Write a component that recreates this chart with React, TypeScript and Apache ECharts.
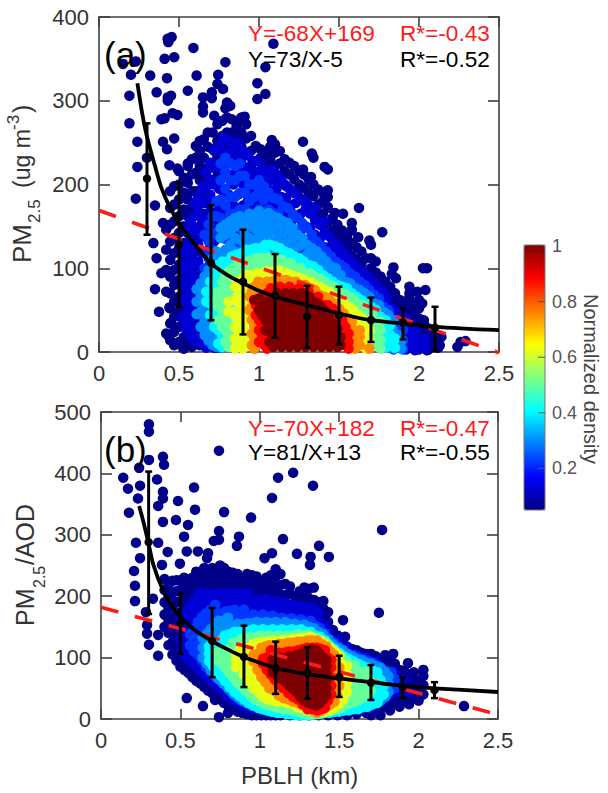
import React, { useEffect, useRef } from "react";
import * as echarts from "echarts";

const FONT = '"Liberation Sans", Arial, sans-serif';
const X_TICK_LABEL_COLOR = "#333333";

// Panel (a): isolated points, [x, y]
const sparseA = [[.454,376],[.429,374],[.433,370],[.59,363],[.47,352],[.41,350],[.23,347],[.15,344],[.2,331],[.32,330],[.425,327],[.61,330],[.79,346],[1.09,368],[1.04,340],[.99,321],[1.04,308],[.99,302],[.745,331],[.74,320],[.775,314],[.705,310],[.705,303],[.65,304],[.555,312],[.36,310],[.45,306],[.43,304],[.43,300],[.19,306],[.65,293],[.65,286],[.8,298],[.82,294],[.79,291],[.46,285],[.49,283],[.41,279],[.39,278],[.19,273],[.72,282],[.24,251],[.4,251],[.47,255],[.425,242],[.3,232],[.24,221],[.555,225],[.44,223],[.49,219],[1.08,253],[.91,281],[.86,275],[1.275,251],[1.33,237],[1.34,232],[1.41,221],[1.43,218],[1.275,218],[1.325,209],[1.43,193],[1.41,191],[1.43,173],[1.625,172],[1.475,166],[1.525,165],[1.77,143],[1.58,154],[1.69,133],[1.525,143],[1.58,146],[1.62,137],[1.84,101],[2.025,100],[2.05,100],[1.83,93],[1.856,88],[1.94,78],[2.04,74],[1.99,72],[1.94,70],[2.02,58],[2.03,38],[2.14,18],[2.13,8],[2.29,13],[2.24,6],[2.26,12],[1.975,2],[2.05,2],[.23,183],[.35,175],[.4,154],[.34,130],[.36,112],[.39,94],[.35,75],[.375,48],[.45,35],[.43,20],[.44,53]];

// Panel (a): columns of points by density, [x, y, y, ...]
const a06 = [[.42,22,72,98,122,146],[.47,8,24,42,60,80,98,118,136,156,176,198],[.53,4,18,36,54,72,92,110,130,150,170,190,208],[.58,6,22,40,58,76,96,114,134,152,172,192,212,230],[.63,8,30,60,90,120,150,180,205,222,240,252],[.68,12,40,150,180,200,220,245,262],[.74,5,210,232,252,272],[.80,225,245,262,280],[.86,215,235,255,270],[.92,215,235,255,272],[.98,210,228,246],[1.04,205,222,238],[1.10,205,222,238,248],[1.16,200,216,230],[1.22,190,206,222],[1.28,180,196,212],[1.34,170,186,200],[1.40,150,165,180,190],[1.46,130,145,160],[1.52,115,130,145],[1.58,100,115,130,145],[1.64,90,105,120],[1.70,75,88,100,112,128],[1.76,65,78,90],[1.82,52,65,78],[1.88,40,52,62],[1.94,5,18,30,42,55,65],[2.0,3,15,28,40,52,62],[2.06,3,15,28],[2.12,5,18]];
const a06x = [[.445,14,34,52,70,90,110,132,152,172,192],[.50,12,30,48,66,86,104,124,142,162,182,200,216],[.555,12,30,46,66,86,104,124,142,162,182,202,222],[.605,14,34,50,74,104,134,165,192,214,232,246],[.655,26,50,165,190,212,232,254],[.71,18,220,242,262],[.77,218,240,258,276],[.83,205,225,245,262,278],[.89,225,245,262,280],[.95,222,240,258],[1.01,215,232,242],[1.07,212,230,245],[1.13,210,225,240],[1.19,195,212,226],[1.25,185,200,216],[1.31,175,190,206],[1.37,160,176,194],[1.43,140,155,172,185],[1.49,122,138,152],[1.55,108,122,138],[1.61,95,110,125],[1.67,82,95,112],[1.73,70,82,95,108],[1.79,58,70,84],[1.85,46,58,70],[1.91,10,24,36,48,60],[1.97,8,22,34,46,58],[2.03,8,22,34],[2.09,8,22]];
const a13 = [[.52,40,60,80,100,120],[.57,20,35,55,75,95,115,135,155],[.62,12,28,48,68,88,108,128,148,168,186],[.67,5,18,38,58,78,98,118,138,158,178,198,215],[.72,5,18,38,60,84,108,132,156,180,200,222,240],[.78,140,165,190,215,238,255],[.84,150,175,200,225,245],[.90,150,175,200,220,240],[.96,170,190,210,228],[1.02,170,190,208,220],[1.08,165,185,205,218],[1.14,165,185,205],[1.20,155,175,192],[1.26,145,165,182],[1.32,130,148,165],[1.38,118,135,152],[1.44,105,120,138],[1.50,95,110,125],[1.56,85,98,112],[1.62,75,88,100],[1.68,65,78,90],[1.74,55,66,78],[1.80,45,56,66],[1.86,5,20,35,48],[1.92,3,14,28,40],[1.98,3,14,26],[2.04,5,16]];
const a13x = [[.545,28,46,66,86,106,126,146],[.595,14,28,45,65,85,105,125,145,162,178],[.645,10,22,38,58,78,98,118,138,158,178,196],[.695,8,28,48,68,88,108,128,148,168,188,206,226],[.75,146,170,195,220,245],[.81,140,162,188,212,236,252],[.87,140,162,188,212,232,250],[.93,160,180,200,220,235],[.99,160,180,200,215,228],[1.05,160,178,196,212],[1.11,155,175,195,212],[1.17,148,165,184,198],[1.23,140,160,178,190],[1.29,130,150,170,180],[1.35,122,140,158,172],[1.41,108,125,142,156],[1.47,98,114,130],[1.53,90,104,118],[1.59,80,92,106],[1.65,70,82,94],[1.71,60,72,84],[1.77,50,60,72],[1.83,10,26,40,52],[1.89,8,20,32,44],[1.95,8,20,32]];
const a22 = [[.66,40,60,80,100,120,140],[.71,22,42,62,82,102,122,142,162],[.76,10,28,50,72,94,116,138,160,182,205,225],[.82,125,145,165,185,205,225],[.88,130,150,170,190,210,225],[.94,140,160,180,200],[1.0,150,170,190,205],[1.06,150,170,190],[1.12,145,165,182],[1.18,135,155,172],[1.24,128,145,160],[1.30,115,130,148],[1.36,105,118,132],[1.42,95,108,120],[1.48,85,97,108],[1.54,78,90,100],[1.60,70,80,90],[1.66,60,70,80],[1.72,50,60,68],[1.78,5,18,32,44,54],[1.84,3,14,26,38],[1.90,3,14,26]];
const a22x = [[.685,12,32,52,72,92,112,132,152],[.735,14,34,54,76,98,118,140,162,180],[.79,120,135,155,175,195,215,232],[.85,128,145,165,185,205,222],[.91,130,150,170,190,210],[.97,145,165,185,200],[1.03,148,165,182,198],[1.09,148,166,184],[1.15,138,156,174],[1.21,130,148,165],[1.27,120,136,154],[1.33,110,124,140],[1.39,100,112,126],[1.45,90,102,114],[1.51,82,92,104],[1.57,74,84,94],[1.63,64,74,84],[1.69,54,65,74],[1.75,46,56,64],[1.81,8,24,38,50],[1.87,8,20,32]];
const a30 = [[.61,45,60,75],[.66,20,38,55,72,90],[.71,8,22,40,58,76,94,112],[.76,5,18,100,118,136,148],[.82,112,128,144,156],[.88,118,134,150,162],[.94,120,136,152,165],[1.0,124,140,156,168],[1.06,126,142,158,166],[1.12,124,138,152,160],[1.18,118,132,146,154],[1.24,112,126,140],[1.30,104,116,128],[1.36,98,110,120],[1.42,88,98,108],[1.48,80,90,100],[1.54,74,84],[1.60,66,76],[1.66,58,70],[1.72,48,58],[1.78,38,48],[1.84,4,14,26,38],[1.89,4,14]];
const a30x = [[.635,30,48,66,82],[.685,14,30,48,64,80,98],[.735,6,16,32,50,68,86,104,120],[.79,92,106,122,140,152],[.85,106,120,136,150,160],[.91,112,126,142,158],[.97,116,132,148,162],[1.03,118,134,150,164],[1.09,118,132,148,162],[1.15,114,128,142,156],[1.21,108,122,136,148],[1.27,100,112,128,136],[1.33,94,104,116,124],[1.39,86,94,104,114],[1.45,78,88,102],[1.51,72,82,92],[1.57,64,72,82],[1.63,56,66,74],[1.69,46,56,66],[1.75,36,46,56],[1.81,10,22,32,44],[1.87,10,20]];
const a40 = [[.67,60,72],[.72,30,48,66,84,94],[.77,6,20,36,52,68,84,100,108],[.83,6,100,114],[.89,104,118],[.95,108,122],[1.01,110,124],[1.07,112,128],[1.13,110,124],[1.19,106,118],[1.25,100,112],[1.31,95,104],[1.37,88,98],[1.43,80,88],[1.49,72,80],[1.55,66,76],[1.61,58,66],[1.67,48,58],[1.73,40,50],[1.79,5,16,28,38],[1.85,5,16]];
const a40x = [[.695,44,58,72,84],[.745,10,26,42,58,76,92,104],[.80,8,80,96,108],[.86,92,104,116],[.92,98,112,122],[.98,100,116,124],[1.04,104,118,128],[1.10,102,114,126],[1.16,100,112,120],[1.22,94,106,114],[1.28,90,100,108],[1.34,84,92,102],[1.40,78,86,92],[1.46,70,78,84],[1.52,62,70,78],[1.58,54,62,70],[1.64,44,54,62],[1.70,34,44,54],[1.76,8,20,32,42],[1.82,8,20,32]];
const a50 = [[.72,62],[.77,30,48,66,84],[.81,6,18,34,50,66,80,96],[.87,92,106],[.93,96,108],[.99,98,112],[1.05,100,112],[1.11,100,110],[1.17,98,106],[1.23,92,100],[1.29,88,94],[1.35,84,90],[1.41,76,84],[1.47,70,78],[1.53,64,70],[1.59,56,64],[1.65,46,56],[1.71,34,44],[1.76,4,14,26,36]];
const a50x = [[.745,38,54,72],[.79,12,26,42,58,74,90],[.84,10,24,60,76,92,100],[.90,84,96,104],[.96,88,100,110],[1.02,90,104,112],[1.08,94,104,112],[1.14,94,104,110],[1.20,90,100,106],[1.26,84,94,100],[1.32,80,88,94],[1.38,74,82,88],[1.44,66,74,80],[1.50,60,68,74],[1.56,50,58,66],[1.62,40,50,58],[1.68,26,38,48],[1.735,8,20,32]];
const a62 = [[.81,48,60],[.85,4,16,30,44,62,78],[.90,4,16,30,46,60,74,88],[.96,82,92],[1.02,86,94],[1.08,88,96],[1.14,88,96],[1.20,86,92],[1.26,80,88],[1.32,76,84],[1.38,70,78],[1.44,62,72],[1.50,54,62],[1.56,44,54],[1.62,32,44],[1.67,4,14,24,34]];
const a62x = [[.875,8,22,38,52,68,84],[.925,8,22,40,56,72,84,92],[.99,78,88,94],[1.05,80,90,96],[1.11,82,92,98],[1.17,80,90,94],[1.23,76,86,90],[1.29,72,82,86],[1.35,66,76,80],[1.41,60,70,74],[1.47,50,60,66],[1.53,42,52,58],[1.59,30,42,50],[1.645,8,20,32,40],[1.69,14,26]];
const a75 = [[.94,50,66],[.97,4,16,30,44,78],[1.02,66,82],[1.08,76,84],[1.14,78,86],[1.20,76,84],[1.26,72,80],[1.32,68,76],[1.38,60,68],[1.44,52,62],[1.50,42,52],[1.56,30,40],[1.60,4,14,24],[1.69,4]];
const a75x = [[.955,8,22,38,54,72],[.995,10,24,38,52,72,84],[1.05,60,72,84],[1.11,70,80,86],[1.17,70,80,86],[1.23,68,78,84],[1.29,64,74,80],[1.35,58,68,74],[1.41,50,60,66],[1.47,40,50,58],[1.53,30,40,46],[1.58,8,18,28,36],[1.63,8,18,26]];
const a88 = [[.98,44,56],[1.02,20,34,48,62],[1.05,4,14,70],[1.10,72],[1.16,74],[1.22,72],[1.28,70],[1.34,64],[1.40,56],[1.46,44,52],[1.52,30,38],[1.56,4,12,22]];
const a88x = [[1.0,12,26,38,52],[1.035,8,26,42,56,68],[1.075,8,66,76],[1.13,70,78],[1.19,70,78],[1.25,68,76],[1.31,62,72],[1.37,58,66],[1.43,48,56],[1.49,34,44],[1.54,8,18,30]];
const a100 = [[.97,62],[1.0,50,64],[1.04,26,38,50,60],[1.09,6,18,30,42,54,66],[1.14,6,18,30,42,54,66],[1.19,6,18,30,42,54,66],[1.24,6,18,30,42,54,68],[1.29,6,18,30,42,54,66],[1.34,6,18,30,42,54,60],[1.39,6,18,30,42,54],[1.44,6,18,30,42],[1.49,6,18,28]];
const a100x = [[1.02,44,56],[1.065,12,24,36,48,60],[1.115,12,24,36,48,60,70],[1.165,12,24,36,48,60,70],[1.215,12,24,36,48,60,70],[1.265,12,24,36,48,60,70],[1.315,12,24,36,48,60,66],[1.365,12,24,36,48,58],[1.415,12,24,36,48],[1.465,12,24,34],[1.51,8,18]];

// Panel (b): isolated points, [x, y]
const sparseB = [[.302,480],[.302,468],[.743,437],[.39,427],[.397,414],[.302,422],[.24,409],[.14,393],[.353,390],[.17,375],[.246,380],[.586,377],[.39,370],[.233,359],[.39,359],[.485,355],[.36,347],[.176,336],[.592,341],[.775,337],[.472,324],[.39,321],[.945,328],[.548,316],[.743,306],[.523,297],[.869,297],[.71,290],[.743,292],[.856,282],[1.146,293],[1.115,393],[1.21,401],[1.077,360],[.22,287],[.36,287],[.42,272],[.54,273],[.61,273],[.674,270],[.668,262],[.246,262],[1.077,270],[1.03,262],[1.234,269],[1.335,380],[1.77,308],[1.373,282],[1.32,264],[1.435,264],[1.75,173],[1.524,161],[1.316,251],[1.537,134],[1.84,106],[1.933,91],[2.03,80],[2.286,21],[.208,241],[.214,217],[.214,192],[.327,196],[.29,153],[.29,139],[.36,137],[.302,121],[.36,103],[.54,34],[.642,21],[.497,253],[.384,251],[.523,230],[.283,174],[.718,31],[.743,3],[.8,10]];

// Panel (b): columns of points by density, [x, y, y, ...]
const b06 = [[.40,150,170,190,210,228],[.45,105,125,145,165,185,205,225],[.50,85,102,120,138,156,174,192,210,226],[.55,75,92,110,128,146,164,182,200,218],[.60,62,80,98,116,134,152,170,188,206,224,240],[.65,52,70,88,106,124,142,160,178,196,214,232,246],[.70,42,60,200,216,232,246],[.75,32,48,64,190,206,222,238,250],[.80,22,38,54,180,196,212,228,240],[.86,12,28,44,175,190,206,222,236],[.92,8,24,175,190,206,222,236],[.98,6,22,170,186,202,218,232],[1.04,6,20,170,186,202,216,230],[1.10,6,20,168,184,200,216,232,244],[1.16,170,186,202,220],[1.22,170,186,200],[1.28,165,180,198,214],[1.34,160,176,194,214],[1.40,150,165,180,192],[1.46,130,145],[1.52,110,125],[1.58,100,114],[1.64,95,108],[1.70,6,20,90,106],[1.76,6,20,82,98],[1.82,14,30,70,86,100],[1.88,20,36,52,68,80],[1.94,24,40,56,72],[2.0,30,46,62],[2.03,40,55,70]];
const b06x = [[.425,120,140,160,180,200,218],[.475,95,115,132,150,170,190,208,226],[.525,80,96,114,132,150,168,186,204,220],[.575,68,86,104,122,140,158,176,194,212,230],[.625,58,74,92,110,128,146,164,182,200,218,236],[.675,46,64,190,206,224,240],[.725,36,52,195,212,228,244],[.775,26,42,58,185,200,216,232,246],[.83,16,32,48,178,194,210,226,238],[.89,10,26,178,194,210,226],[.95,6,20,172,188,204,220,234],[1.01,6,20,172,188,204,220],[1.07,6,20,170,186,202,218,234],[1.13,6,170,186,202,218,236],[1.19,6,170,186,204,216],[1.25,6,168,182,196,208],[1.31,6,162,178,196,212],[1.37,6,155,172,190],[1.43,6,140,158,174],[1.49,6,120,136],[1.55,6,106,118],[1.61,8,98,112],[1.67,10,92,106],[1.73,14,86,102],[1.79,20,36,76,92,104],[1.85,26,42,58,74,90],[1.91,30,46,62,78],[1.97,34,50,64,76]];
const b13 = [[.50,110,128,146,164],[.56,95,112,130,148,166,184],[.62,80,98,116,134,152,170,188,206],[.68,65,82,100,118,136,154,172,190,205],[.74,52,70,150,168,186,205],[.80,38,56,155,172,188,205],[.86,28,44,160,175,190,205],[.92,18,34,160,176,192,205],[.98,16,165,180,195],[1.04,14,165,180,195],[1.10,14,162,178,192],[1.16,12,160,176,190],[1.22,12,158,174,185],[1.28,10,155,170,182],[1.34,10,150,165,180],[1.40,10,140,155],[1.46,10,125],[1.52,12,110],[1.58,14,98],[1.64,16,92],[1.70,18,88],[1.76,28,80],[1.82,40,58,72],[1.88,44,60],[1.94,45]];
const b13x = [[.53,102,120,138,156,174],[.59,88,104,122,140,158,176,194],[.65,72,90,108,126,144,162,180,198],[.71,58,76,94,112,130,148,166,184,200],[.77,46,62,152,170,186,204],[.83,32,48,158,174,190,204],[.89,22,38,160,176,192,204],[.95,20,162,178,192],[1.01,16,162,178,192],[1.07,14,160,176,190],[1.13,14,158,174,188],[1.19,12,158,172,186],[1.25,12,156,170,184],[1.31,10,152,168,182],[1.37,10,142,158,172],[1.43,10,128,144],[1.49,12,116,130],[1.55,14,104,116],[1.61,16,96,106],[1.67,18,90,100],[1.73,24,84,94],[1.79,34,50,66,78],[1.85,46,62,76],[1.91,48,64]];
const b22 = [[.56,120,138],[.61,105,122,140,158],[.66,85,102,120,138,156,172],[.72,68,85,140,156,172,186],[.78,55,70,145,160,175],[.84,38,55,150,165,178],[.90,28,44,150,165,178],[.96,22,155,170],[1.02,18,155,170],[1.08,14,155,168],[1.14,14,152,165],[1.20,12,150,164],[1.26,10,148,162],[1.32,10,145,160],[1.38,12,135,148],[1.44,14,118,130],[1.50,14,105,118],[1.56,16,95,106],[1.62,18,90,100],[1.68,20,85,95],[1.74,30,78,88],[1.80,40,55,68,78],[1.85,50,65]];
const b22x = [[.585,110,128,146],[.635,96,112,130,148,166],[.69,76,92,110,128,146,164,178],[.75,62,78,142,158,172],[.81,46,62,148,162,176],[.87,32,48,152,166],[.93,24,40,152,166],[.99,20,152,166],[1.05,16,152,166],[1.11,14,150,164],[1.17,12,150,162],[1.23,10,148,160],[1.29,10,146,158],[1.35,10,140,152],[1.41,12,126,140],[1.47,14,112,124],[1.53,16,100,112],[1.59,18,92,104],[1.65,20,88,98],[1.71,26,82,92],[1.77,36,50,66,80],[1.83,48,62,76]];
const b30 = [[.64,100,116,132],[.69,80,96,112,128,146],[.74,65,80,96,112,130,146,160],[.80,50,65,135,150,165],[.86,36,50,140,155],[.92,26,40,142,156],[.98,20,145,158],[1.04,14,145,158],[1.10,12,145,158],[1.16,10,145,158],[1.22,8,142,155],[1.28,8,140,154],[1.34,8,135,148],[1.40,10,125,138],[1.46,12,110,122],[1.52,14,100,112],[1.58,16,92,102],[1.64,18,86,96],[1.70,22,80,90],[1.76,30,72,84],[1.81,44,58,70]];
const b30x = [[.665,90,106,122,138],[.715,72,88,104,120,136,150],[.77,58,74,132,148,160],[.83,42,58,138,152],[.89,30,44,140,154],[.95,22,144,156],[1.01,16,144,156],[1.07,12,144,156],[1.13,10,144,154],[1.19,8,142,154],[1.25,8,140,152],[1.31,8,136,150],[1.37,10,130,142],[1.43,12,116,130],[1.49,14,104,116],[1.55,16,96,106],[1.61,18,88,98],[1.67,20,82,92],[1.73,26,76,86],[1.79,36,50,64,76]];
const b40 = [[.68,94,106,118],[.73,78,92,108,124],[.78,62,76,92,108,122,136],[.84,44,58,128,142],[.90,32,46,130,144],[.96,22,134,146],[1.02,16,134,146],[1.08,12,134,146],[1.14,10,134,146],[1.20,8,134,146],[1.26,6,134,146],[1.32,6,132,142],[1.38,8,122,134],[1.44,10,108,120],[1.50,12,96,108],[1.56,14,88,98],[1.62,16,80,90],[1.68,20,36,52,74,84],[1.74,26,42,64,76],[1.78,40,54]];
const b40x = [[.705,86,100,114],[.755,70,84,100,116,128],[.81,52,66,124,138],[.87,38,52,130,142],[.93,26,40,132,144],[.99,18,134,144],[1.05,14,134,144],[1.11,10,134,144],[1.17,8,134,144],[1.23,6,134,144],[1.29,6,132,142],[1.35,8,126,136],[1.41,10,114,128],[1.47,12,102,114],[1.53,14,92,102],[1.59,16,84,94],[1.65,20,36,52,66,78,86],[1.71,24,40,56,70,80],[1.76,36,50,64]];
const b50 = [[.73,96,108],[.78,84,96,110],[.83,68,80,92,104,112,124],[.88,54,68,80,92,118,130],[.94,38,50,122,134],[1.00,28,124,136],[1.06,22,126,136],[1.12,18,126,136],[1.18,16,126,136],[1.24,12,128,138],[1.30,8,128,138],[1.36,8,122,132],[1.42,12,112,124],[1.48,16,96,108],[1.54,22,84,96],[1.60,28,44,60,74,88],[1.66,36,52,66,78],[1.70,46,60]];
const b50x = [[.755,92,104],[.805,76,88,100,114],[.855,60,74,86,98,110,122],[.91,46,60,74,88,120,130],[.97,32,46,124,132],[1.03,24,126,134],[1.09,20,126,134],[1.15,16,126,134],[1.21,14,128,136],[1.27,10,128,136],[1.33,8,124,134],[1.39,10,116,128],[1.45,14,104,116],[1.51,18,90,102],[1.57,26,42,58,72,88],[1.63,32,48,64,76],[1.68,40,54,68]];
const b62 = [[.85,84,96,106],[.90,72,84,96,108,116],[.96,50,64,78,112,122],[1.02,36,50,116,126],[1.08,30,120,128],[1.14,28,120,128],[1.20,24,122,130],[1.26,18,124,132],[1.32,14,124,134],[1.38,12,118,128],[1.44,14,106,116],[1.50,24,38,92,104],[1.55,44,58,72,86]];
const b62x = [[.875,90,102,112],[.93,62,76,90,104,116],[.99,44,58,72,86,118,124],[1.05,32,46,60,118,126],[1.11,28,42,118,126],[1.17,26,40,120,128],[1.23,20,36,122,130],[1.29,16,30,124,132],[1.35,12,26,120,130],[1.41,12,26,112,122],[1.47,18,32,98,110],[1.525,32,46,60,74,88]];
const b75 = [[.96,94,104],[1.01,68,80,92,108,116],[1.06,50,62,112,120],[1.12,38,116,122],[1.18,32,116,124],[1.24,26,118,126],[1.30,18,120,128],[1.36,10,120,128],[1.42,20,108,118],[1.47,28,42,92,104],[1.50,54,68,84]];
const b75x = [[.985,80,92,106],[1.035,60,74,88,110,118],[1.09,46,60,74,114,120],[1.15,34,48,62,116,122],[1.21,28,42,118,124],[1.27,22,36,118,126],[1.33,14,28,120,128],[1.39,14,28,114,122],[1.445,24,38,100,110],[1.485,40,54,70,86]];
const b88 = [[1.02,90,98],[1.07,72,84,106,112],[1.12,56,68,108],[1.18,42,54,110],[1.24,32,44,112],[1.30,16,28,116],[1.36,14,24,116],[1.41,18,30,104,112],[1.45,40,54,68,84,96]];
const b88x = [[1.045,80,92,100],[1.095,64,76,108],[1.15,50,62,108],[1.21,36,48,110],[1.27,24,36,114],[1.33,16,28,116],[1.385,16,28,108,114],[1.43,30,44,100]];
const b100 = [[1.08,76,86,96],[1.13,66,78,90,100],[1.18,56,68,80,92,102],[1.23,44,56,68,80,92,104],[1.28,30,42,54,66,78,90,102,110],[1.33,24,36,48,60,72,84,96,108,114],[1.38,26,38,50,62,74,86,98,106],[1.42,38,50,62,74,86,96]];
const b100x = [[1.105,72,84,96],[1.155,62,74,86,98],[1.205,50,62,74,86,98],[1.255,36,48,60,72,84,96,106],[1.305,26,38,50,62,74,86,98,110],[1.355,22,34,46,58,70,82,94,106,112],[1.40,32,44,56,68,80,92,100]];

const bandsA: [number, number[][]][] = [[.06,a06],[.06,a06x],[.13,a13],[.13,a13x],[.22,a22],[.22,a22x],[.3,a30],[.3,a30x],[.4,a40],[.4,a40x],[.5,a50],[.5,a50x],[.62,a62],[.62,a62x],[.75,a75],[.75,a75x],[.88,a88],[.88,a88x],[1,a100],[1,a100x]];
const bandsB: [number, number[][]][] = [[.06,b06],[.06,b06x],[.13,b13],[.13,b13x],[.22,b22],[.22,b22x],[.3,b30],[.3,b30x],[.4,b40],[.4,b40x],[.5,b50],[.5,b50x],[.62,b62],[.62,b62x],[.75,b75],[.75,b75x],[.88,b88],[.88,b88x],[1,b100],[1,b100x]];

// Linear fits (red) and inverse fits (black)
const redLineA = [[0,169],[2.5,-1]];
const redLineB = [[0,182],[2.5,7]];
const curveA = [[.24,321],[.27,285],[.3,257],[.35,222],[.39,196],[.45,170],[.5,154],[.6,128],[.7,106],[.8,92],[.9,82],[1,73],[1.1,66],[1.3,56],[1.5,46],[1.7,38],[1.9,34],[2.1,30],[2.5,26]];
const curveB = [[.24,347],[.27,318],[.3,285],[.33,251],[.39,210],[.45,183],[.5,166],[.6,143],[.7,127],[.8,113],[.9,101],[1.1,83],[1.3,73],[1.5,66],[1.7,60],[1.9,54],[2.1,50],[2.5,44]];

// Binned means: x, low, high, mean
const binsA = [[.3,140,273,207],[.5,54,202,128],[.7,38,175,106],[.9,21,146,84],[1.1,17,117,67],[1.3,5,79,42],[1.5,9,78,44],[1.7,12,65,38],[1.9,15,52,35],[2.1,1,54,29]];
const binsB = [[.3,171,403,288],[.5,106,204,156],[.7,68,181,127],[.9,52,152,101],[1.1,41,126,83],[1.3,33,117,75],[1.5,36,103,68],[1.7,31,88,59],[1.9,34,68,52],[2.1,34,60,47]];

const colorbarTicks = ["0.2", "0.4", "0.6", "0.8", "1"];
const jet = ["#00007f","#0000ff","#007fff","#00ffff","#7fff7f","#ffff00","#ff7f00","#ff0000","#7f0000"];

function points(sparse: number[][], bands: [number, number[][]][]) {
  const out: number[][] = sparse.map(([x, y]) => [x, y, 0.06]);
  for (const [d, rows] of bands) {
    for (const [x, ...ys] of rows) for (const y of ys) out.push([x, y, d]);
  }
  return out;
}

function errorBars(api: any) {
  const x = api.value(0);
  const lo = api.coord([x, api.value(1)]);
  const hi = api.coord([x, api.value(2)]);
  const mid = api.coord([x, api.value(3)]);
  const s = { stroke: "#000", lineWidth: 3, fill: "none" };
  const cap = 3.5;
  return {
    type: "group",
    children: [
      { type: "line", shape: { x1: lo[0], y1: lo[1], x2: hi[0], y2: hi[1] }, style: s },
      { type: "line", shape: { x1: lo[0] - cap, y1: lo[1], x2: lo[0] + cap, y2: lo[1] }, style: { ...s, lineWidth: 2.5 } },
      { type: "line", shape: { x1: hi[0] - cap, y1: hi[1], x2: hi[0] + cap, y2: hi[1] }, style: { ...s, lineWidth: 2.5 } },
      { type: "circle", shape: { cx: mid[0], cy: mid[1], r: 4.2 }, style: { fill: "#000" } },
    ],
  };
}

function txt(text: string, x: number, y: number, size: number, fill: string, extra: any = {}) {
  return {
    type: "text", x, y, z: 100,
    style: { text, fill, fontFamily: FONT, fontSize: size, verticalAlign: "middle", ...extra },
  };
}

function App() {
  const ref = useRef<HTMLDivElement>(null);
  useEffect(() => {
    const chart = echarts.init(ref.current!, undefined, { renderer: "svg" });
    const line = { color: "#404040", width: 1.6 };
    const xBase = (gridIndex: number) => ({
      type: "value", gridIndex, min: 0, max: 2.5, interval: 0.5, splitLine: { show: false },
      axisLine: { show: true, onZero: false, lineStyle: line },
      axisTick: { show: true, inside: true, length: 10, lineStyle: line },
    });
    const yBase = (gridIndex: number, max: number) => ({
      type: "value", gridIndex, min: 0, max, interval: 100, splitLine: { show: false },
      axisLine: { show: true, onZero: false, lineStyle: line },
      axisTick: { show: true, inside: true, length: 11, lineStyle: line },
    });
    const labels = { show: true, fontFamily: FONT, fontSize: 22, color: X_TICK_LABEL_COLOR, margin: 10, hideOverlap: false, showMinLabel: true, showMaxLabel: true };
    const scatter = (data: number[][], i: number) => ({
      type: "scatter", xAxisIndex: i, yAxisIndex: i, data, symbolSize: 10.5, clip: false, z: 2,
      progressive: 0, large: false, silent: true, itemStyle: { opacity: 1 },
    });
    const lineS = (data: number[][], i: number, z: number, lineStyle: any, smooth: any) => ({
      type: "line", xAxisIndex: i, yAxisIndex: i, data, showSymbol: false, symbol: "none", z, lineStyle, smooth, silent: true, clip: false,
    });
    const bars = (data: number[][], i: number) => ({
      type: "custom", xAxisIndex: i, yAxisIndex: i, data, z: 6, clip: false, silent: true,
      encode: { x: 0, y: [1, 2, 3] }, renderItem: (_: any, api: any) => errorBars(api),
    });
    const red = { color: "#ff1a1a", width: 3.6, type: [18, 17] };
    const black = { color: "#000", width: 3.8 };

    const tickY = (v: number) => 246 + (1 - v) * 278;
    chart.setOption({
      animation: false,
      tooltip: { show: false },
      grid: [
        { left: 99, top: 17, width: 400, height: 335, containLabel: false },
        { left: 101, top: 412, width: 397, height: 307, containLabel: false },
      ],
      xAxis: [
        { ...xBase(0), position: "bottom", axisLabel: labels },
        { ...xBase(0), position: "top", axisLabel: { show: false } },
        { ...xBase(1), position: "bottom", axisLabel: labels },
        { ...xBase(1), position: "top", axisLabel: { show: false } },
      ],
      yAxis: [
        { ...yBase(0, 400), position: "left", axisLabel: labels },
        { ...yBase(0, 400), position: "right", axisLabel: { show: false } },
        { ...yBase(1, 500), position: "left", axisLabel: labels },
        { ...yBase(1, 500), position: "right", axisLabel: { show: false } },
      ],
      visualMap: {
        type: "continuous", min: 0.05, max: 1, dimension: 2, seriesIndex: [0, 1],
        inRange: { color: jet }, left: 524, top: 245, itemWidth: 21, itemHeight: 265,
        calculable: false, text: ["", ""], padding: 0, hoverLink: false, textGap: 0,
      },
      series: [
        scatter(points(sparseA, bandsA), 0),
        scatter(points(sparseB, bandsB), 2),
        lineS(redLineA, 0, 3, red, false),
        lineS(redLineB, 2, 3, red, false),
        lineS(curveA, 0, 5, black, 0.3),
        lineS(curveB, 2, 5, black, 0.3),
        bars(binsA, 0),
        bars(binsB, 2),
      ],
      graphic: [
        txt("(a)", 104, 54, 35, "#000"),
        txt("(b)", 104, 449, 35, "#000"),
        txt("Y=-68X+169", 248, 33, 22.6, "#ff1a1a"),
        txt("R*=-0.43", 400, 33, 22.6, "#ff1a1a"),
        txt("Y=73/X-5", 248, 59, 22.6, "#000"),
        txt("R*=-0.52", 400, 59, 22.6, "#000"),
        txt("Y=-70X+182", 248, 428, 22.6, "#ff1a1a"),
        txt("R*=-0.47", 400, 428, 22.6, "#ff1a1a"),
        txt("Y=81/X+13", 248, 452, 22.6, "#000"),
        txt("R*=-0.55", 400, 452, 22.6, "#000"),
        {
          type: "group", x: 22, y: 263, rotation: Math.PI / 2, z: 100,
          children: [
            txt("PM", 0, 0, 26, "#333"),
            txt("2.5", 40, 12, 17, "#333"),
            txt("(ug m", 75, 0, 23, "#333"),
            txt("-3", 133, -9, 17, "#333"),
            txt(")", 150, 0, 25, "#333"),
          ],
        },
        {
          type: "group", x: 25, y: 626, rotation: Math.PI / 2, z: 100,
          children: [
            txt("PM", 0, 0, 25, "#333"),
            txt("2.5", 38, 14, 16, "#333"),
            txt("/AOD", 61, 0, 25, "#333"),
          ],
        },
        txt("PBLH (km)", 241, 775, 24, "#333"),
        { type: "rect", shape: { x: 524, y: 245, width: 21, height: 265 }, style: { fill: "none", stroke: "#777", lineWidth: 1 }, z: 100 },
        ...colorbarTicks.map((t) => txt(t, 552, tickY(Number(t)), 18, "#555")),
        ...colorbarTicks.slice(0, 4).map((t) => ({
          type: "line", z: 100,
          shape: { x1: 538, y1: tickY(Number(t)), x2: 545, y2: tickY(Number(t)) },
          style: { stroke: "#555", lineWidth: 1 },
        })),
        txt("Normalized density", 591, 379, 20, "#444", { align: "center" }),
      ].map((g: any) => (g.style && g.style.text === "Normalized density" ? { ...g, rotation: -Math.PI / 2 } : g)),
    });
    return () => chart.dispose();
  }, []);
  return <div ref={ref} style={{ position: "absolute", left: 0, top: 0, width: 608, height: 793 }} />;
}

export default App;
